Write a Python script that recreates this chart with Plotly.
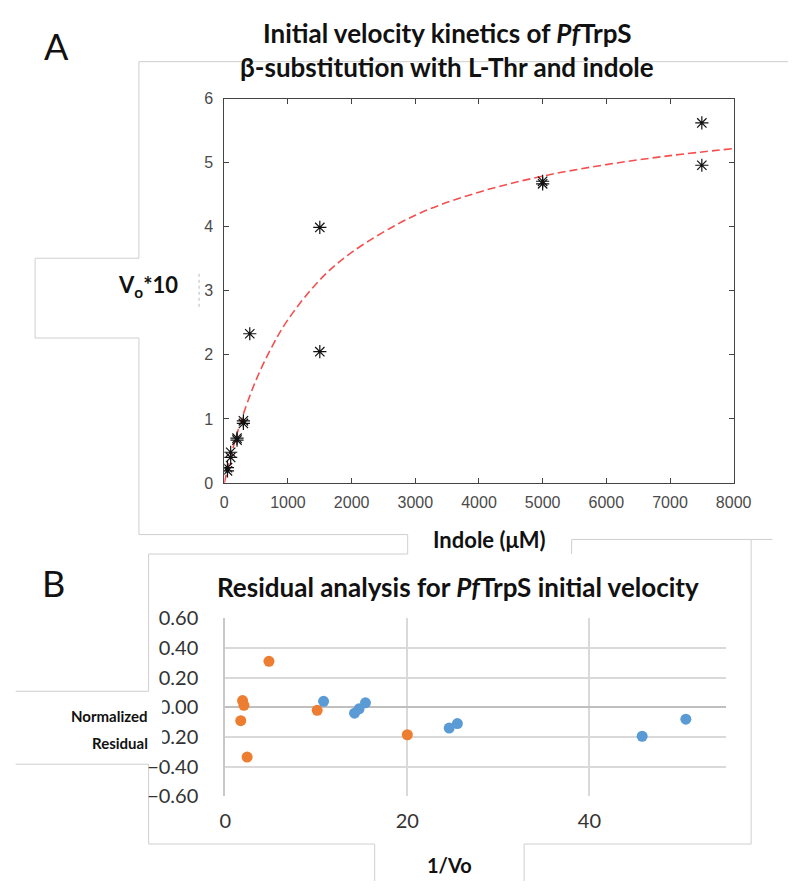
import plotly.graph_objects as go

# ---------------- data ----------------
# Panel A: initial velocity (x10) vs indole concentration
indole_uM = [50, 50, 100, 100, 200, 200, 300, 300, 400, 1500, 1500, 5000, 5000, 7500, 7500]
vo_x10 = [0.19, 0.24, 0.40, 0.48, 0.67, 0.70, 0.93, 0.97, 2.33, 3.99, 2.05, 4.67, 4.71, 5.62, 4.96]

# Fitted curve
fit_x = [0, 100, 250, 500, 750, 1000, 1500, 2000, 3000, 4000, 5000, 6000, 7000, 8000]
fit_y = [0.0, 0.41, 0.93, 1.61, 2.13, 2.55, 3.17, 3.60, 4.18, 4.54, 4.79, 4.97, 5.11, 5.22]

a_xticks = [0, 1000, 2000, 3000, 4000, 5000, 6000, 7000, 8000]
a_yticks = [0, 1, 2, 3, 4, 5, 6]

# Panel B: normalized residuals vs 1/Vo
blue_inv_vo = [10.8, 14.2, 14.7, 15.4, 24.6, 25.5, 45.8, 50.6]
blue_resid = [0.04, -0.04, -0.01, 0.03, -0.14, -0.11, -0.195, -0.08]
orange_inv_vo = [1.7, 1.9, 2.05, 2.4, 4.8, 10.1, 20.0]
orange_resid = [-0.09, 0.045, 0.013, -0.335, 0.31, -0.02, -0.185]

b_xticks = [0, 20, 40]
b_yticks = [-0.6, -0.4, -0.2, 0.0, 0.2, 0.4, 0.6]

W, H = 806, 892


def X(px):
    return px / W


def Y(py):
    return 1 - py / H


fig = go.Figure()

fig.add_trace(go.Scatter(
    x=fit_x, y=fit_y, mode="lines", line=dict(color="#F44F4F", width=1.6, dash="8px,4px", shape="spline"),
    xaxis="x", yaxis="y", showlegend=False, hoverinfo="skip"))
fig.add_trace(go.Scatter(
    x=indole_uM, y=vo_x10, mode="markers",
    marker=dict(symbol="asterisk", size=11, line=dict(color="#111111", width=1.2)),
    xaxis="x", yaxis="y", showlegend=False))

fig.add_trace(go.Scatter(
    x=blue_inv_vo, y=blue_resid, mode="markers",
    marker=dict(symbol="circle", size=11, color="#5B9BD5"),
    xaxis="x2", yaxis="y2", showlegend=False))
fig.add_trace(go.Scatter(
    x=orange_inv_vo, y=orange_resid, mode="markers",
    marker=dict(symbol="circle", size=11, color="#ED7D31"),
    xaxis="x2", yaxis="y2", showlegend=False))

tickA = dict(family="Liberation Sans, Arial, sans-serif", size=16, color="#4a4a4a")
tickB = dict(family="Lato, Carlito, Calibri, sans-serif", size=20, color="#333333")

fig.update_layout(
    width=W, height=H, margin=dict(l=0, r=0, t=0, b=0),
    paper_bgcolor="white", plot_bgcolor="white",
    xaxis=dict(domain=[X(225), X(750)], range=[0, 8000], tickvals=a_xticks,
               ticks="inside", ticklen=5, tickcolor="#444444", showline=True, linecolor="#444444",
               linewidth=1, mirror="ticks", showgrid=False, zeroline=False, tickfont=tickA,
               ticklabelstandoff=5, anchor="y", fixedrange=True),
    yaxis=dict(domain=[Y(483), Y(88)], range=[0, 6], tickvals=a_yticks,
               ticks="inside", ticklen=5, tickcolor="#444444", showline=True, linecolor="#444444",
               linewidth=1, mirror="ticks", showgrid=False, zeroline=False, tickfont=tickA,
               ticklabelstandoff=7, anchor="x", fixedrange=True),
    xaxis2=dict(domain=[X(226), X(742)], range=[0, 55], tickvals=b_xticks,
                ticks="", showline=False, showgrid=True, gridcolor="#D9D9D9", gridwidth=2,
                zeroline=False, tickfont=tickB, ticklabelstandoff=11, anchor="y2", fixedrange=True),
    yaxis2=dict(domain=[Y(805), Y(622)], range=[-0.6, 0.6], tickvals=b_yticks, tickformat=".2f",
                ticks="", showline=True, linecolor="#C8C8C8", linewidth=2,
                showgrid=True, gridcolor="#D9D9D9", gridwidth=2,
                zeroline=True, zerolinecolor="#BFBFBF", zerolinewidth=2,
                tickfont=tickB, ticklabelstandoff=21, anchor="x2", fixedrange=True),
)

# gray frame lines (panel borders of the composite)
frame_segments = [
    # panel A
    (137, 50, 806, 50), (137, 50, 137, 252), (30, 252, 137, 252), (30, 252, 30, 334),
    (30, 334, 137, 334), (137, 334, 137, 536), (137, 536, 414, 536), (414, 536, 414, 556),
    (583, 541, 790, 541), (583, 541, 583, 556),
    # panel B
    (147, 556, 414, 556), (147, 556, 147, 697), (10, 697, 147, 697), (10, 772, 147, 772),
    (147, 772, 147, 854), (147, 854, 380, 854), (380, 854, 380, 892), (534, 854, 534, 892),
    (534, 854, 768, 854), (768, 541, 768, 854),
]
shapes = []
for x0, y0, x1, y1 in frame_segments:
    shapes.append(dict(type="line", xref="paper", yref="paper", x0=X(x0), y0=Y(y0), x1=X(x1), y1=Y(y1),
                       line=dict(color="#CFCFCF", width=1), layer="below"))
# white label box that hides part of the residual tick labels
shapes.append(dict(type="rect", xref="paper", yref="paper", x0=X(11), x1=X(161), y0=Y(770), y1=Y(698),
                   fillcolor="white", line=dict(width=0), layer="above"))
# small dotted artifact beside the y label
shapes.append(dict(type="line", xref="paper", yref="paper", x0=X(199), x1=X(199), y0=Y(268), y1=Y(302),
                   line=dict(color="#BBBBBB", width=1, dash="dot"), layer="above"))
fig.update_layout(shapes=shapes)

TF = "Lato, Carlito, Calibri, sans-serif"
ann = [
    dict(x=X(52), y=Y(34), text="A", font=dict(family=TF, size=36, color="#111111")),
    dict(x=X(49), y=Y(586), text="B", font=dict(family=TF, size=36, color="#111111")),
    dict(x=X(455), y=Y(21), text="<b>Initial velocity kinetics of <i>Pf</i>TrpS</b>",
         font=dict(family=TF, size=26, color="#111111")),
    dict(x=X(455), y=Y(56), text="<b>β-substitution with L-Thr and indole</b>",
         font=dict(family=TF, size=26, color="#111111")),
    dict(x=X(146), y=Y(281), text="<b>V<sub>o</sub>*10</b>",
         font=dict(family=TF, size=22, color="#111111")),
    dict(x=X(498), y=Y(541), text="<b>Indole (μM)</b>",
         font=dict(family=TF, size=22, color="#111111")),
    dict(x=X(466), y=Y(590), text="<b>Residual analysis for <i>Pf</i>TrpS initial velocity</b>",
         font=dict(family=TF, size=26, color="#111111")),
    dict(x=X(148), y=Y(722), text="<b>Normalized</b>", xanchor="right",
         font=dict(family=TF, size=15, color="#111111")),
    dict(x=X(148), y=Y(750), text="<b>Residual</b>", xanchor="right",
         font=dict(family=TF, size=15, color="#111111")),
    dict(x=X(457), y=Y(876), text="<b>1/Vo</b>",
         font=dict(family=TF, size=20, color="#111111")),
]
for a in ann:
    a.setdefault("xanchor", "center")
    a.update(xref="paper", yref="paper", yanchor="middle", showarrow=False)
fig.update_layout(annotations=ann)

fig.write_html("out.html", config={"displayModeBar": False},
               post_script="document.body.style.margin='0px';document.body.style.overflow='hidden';")
